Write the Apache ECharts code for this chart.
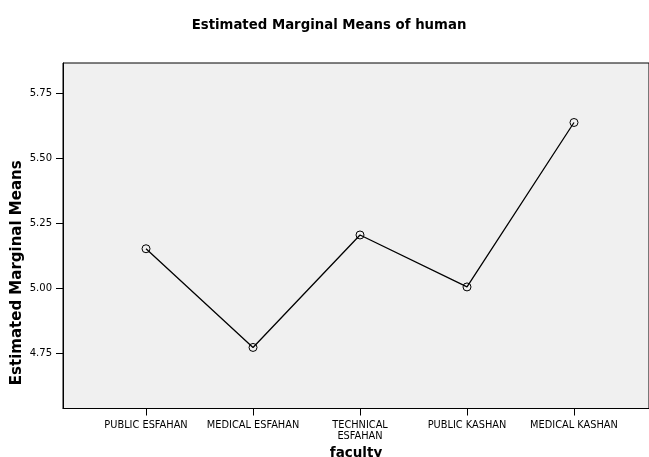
<!DOCTYPE html>
<html>
<head>
<meta charset="utf-8">
<script src="https://cdn.jsdelivr.net/npm/echarts@6/dist/echarts.min.js"></script>
<style>html,body{margin:0;padding:0;background:#fff}#c{width:649px;height:457px}</style>
</head>
<body>
<div id="c"></div>
<script>
const categories = ['PUBLIC ESFAHAN', 'MEDICAL ESFAHAN', 'TECHNICAL\nESFAHAN', 'PUBLIC KASHAN', 'MEDICAL KASHAN'];
const means = [5.151, 4.771, 5.204, 5.004, 5.637];
const yTicks = [4.75, 5.00, 5.25, 5.50, 5.75];

const chart = echarts.init(document.getElementById('c'));
const font = 'DejaVu Sans, sans-serif';
chart.setOption({
  animation: false,
  backgroundColor: '#fff',
  title: {
    text: 'Estimated Marginal Means of human',
    left: 324, top: 14, textAlign: 'center',
    textStyle: {fontFamily: font, fontSize: 13.3, fontWeight: 'bold', color: '#000'}
  },
  grid: {
    left: 63, top: 63, right: 0, bottom: 48.5,
    outerBoundsMode: 'none', containLabel: false,
    show: true, backgroundColor: '#f0f0f0', borderColor: '#000', borderWidth: 1
  },
  xAxis: {
    type: 'value', min: -0.776, max: 4.701,
    name: 'faculty', nameLocation: 'middle', nameGap: 38, nameMoveOverlap: false,
    nameTextStyle: {fontFamily: font, fontSize: 13.5, fontWeight: 'bold', color: '#000'},
    axisLine: {show: true, onZero: false, lineStyle: {color: '#000', width: 1}},
    axisTick: {show: true, length: 7, lineStyle: {color: '#000'}, customValues: categories.map((c, i) => i)},
    axisLabel: {
      customValues: categories.map((c, i) => i),
      formatter: v => categories[Math.round(v)] || '',
      fontFamily: font, fontSize: 9.8, color: '#000', margin: 12, lineHeight: 10.5
    },
    splitLine: {show: false}
  },
  yAxis: {
    type: 'value', min: 4.536, max: 5.866,
    name: 'Estimated Marginal Means', nameLocation: 'middle', nameGap: 38, nameRotate: 90, nameMoveOverlap: false,
    nameTextStyle: {fontFamily: font, fontSize: 15, fontWeight: 'bold', color: '#000', padding: [0, 0, 0, -74]},
    axisLine: {show: true, onZero: false, lineStyle: {color: '#000', width: 1}},
    axisTick: {show: true, length: 7, lineStyle: {color: '#000'}, customValues: yTicks},
    axisLabel: {
      customValues: yTicks,
      formatter: v => v.toFixed(2),
      fontFamily: font, fontSize: 10, color: '#000', margin: 11
    },
    splitLine: {show: false}
  },
  series: [{
    type: 'line',
    data: means.map((v, i) => [i, v]),
    symbol: 'circle', symbolSize: 8,
    itemStyle: {color: 'transparent', borderColor: '#000', borderWidth: 1},
    lineStyle: {color: '#000', width: 1.3}
  }]
});
</script>
</body>
</html>
